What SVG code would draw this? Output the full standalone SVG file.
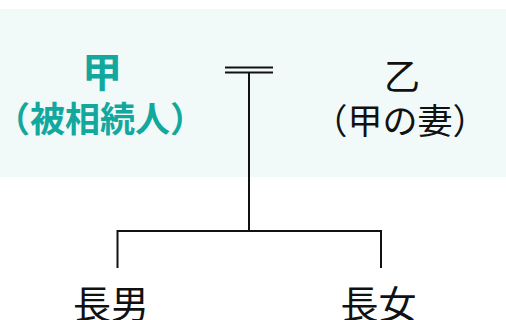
<svg xmlns="http://www.w3.org/2000/svg" width="506" height="320" viewBox="0 0 506 320">
<style>
.t{font-family:"Noto Sans CJK JP","Noto Sans",sans-serif;text-anchor:middle;}
.teal{fill:#13A89E;font-weight:bold;}
.blk{fill:#111;}
.ln{stroke:#111;stroke-width:2;fill:none;}
</style>
<rect x="0" y="9" width="506" height="168" fill="#F2FAF9"/>
<g id="connectors">
<line class="ln" x1="225" y1="67.5" x2="273" y2="67.5"/>
<line class="ln" x1="225" y1="72.5" x2="273" y2="72.5"/>
<line class="ln" x1="249" y1="73" x2="249" y2="231"/>
<polyline class="ln" points="117.5,268 117.5,231 381,231 381,268"/>
</g>
<g id="node-ko">
<text class="t teal"><tspan x="102" y="87" font-size="40">甲</tspan><tspan x="100" y="132" font-size="35">（被相続人）</tspan></text>
</g>
<g id="node-otsu">
<text class="t blk"><tspan x="402" y="90" font-size="36">乙</tspan><tspan x="400" y="134" font-size="35">（甲の妻）</tspan></text>
</g>
<g id="node-son">
<text class="t blk" x="111" y="318" font-size="38">長男</text>
</g>
<g id="node-daughter">
<text class="t blk" x="378.5" y="318" font-size="38">長女</text>
</g>
</svg>
